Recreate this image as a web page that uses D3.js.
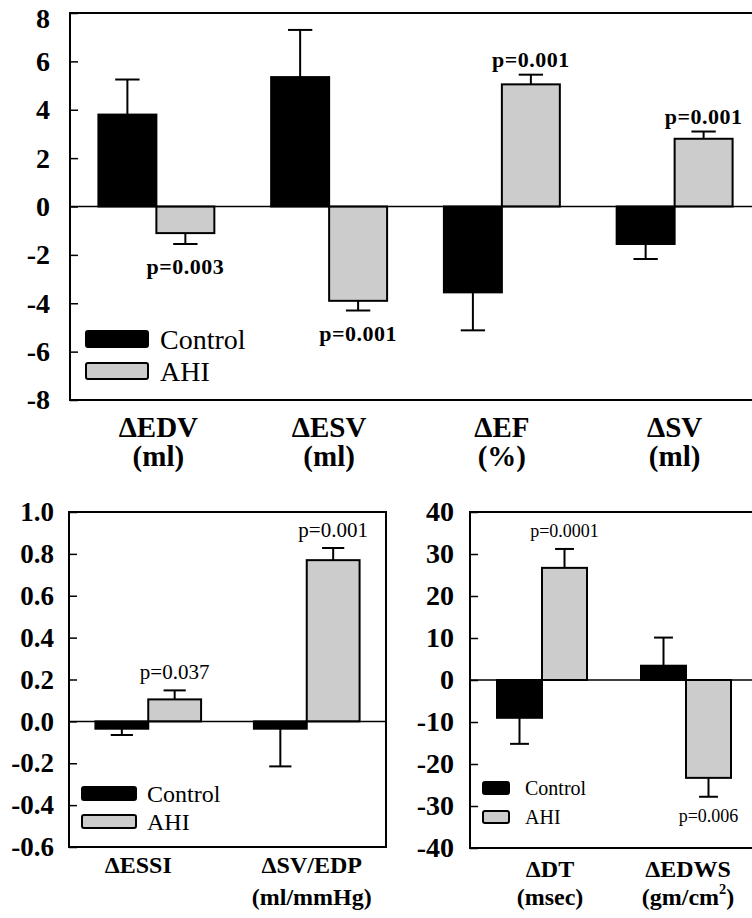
<!DOCTYPE html>
<html>
<head>
<meta charset="utf-8">
<script src="https://cdn.jsdelivr.net/npm/d3@7"></script>
<style>
  body { margin: 0; background: #fff; }
  svg { display: block; }
</style>
</head>
<body>
<div id="chart"></div>
<script>
// Panel 1 (top): volumes and EF
const topCats = ["ΔEDV", "ΔESV", "ΔEF", "ΔSV"]
const topUnits = ["(ml)", "(ml)", "(%)", "(ml)"]
const topControl = [3.8, 5.35, -3.55, -1.55]
const topControlErr = [1.45, 1.95, 1.57, 0.62]
const topAHI = [-1.1, -3.9, 5.05, 2.8]
const topAHIErr = [0.45, 0.4, 0.4, 0.3]
const topP = ["p=0.003", "p=0.001", "p=0.001", "p=0.001"]
const topTicks = [-8, -6, -4, -2, 0, 2, 4, 6, 8]

// Panel 2 (bottom left)
const blCats = ["ΔESSI", "ΔSV/EDP"]
const blUnits = ["", "(ml/mmHg)"]
const blControl = [-0.035, -0.035]
const blControlErr = [0.03, 0.18]
const blAHI = [0.105, 0.77]
const blAHIErr = [0.043, 0.058]
const blP = ["p=0.037", "p=0.001"]
const blTicks = [-0.6, -0.4, -0.2, 0.0, 0.2, 0.4, 0.6, 0.8, 1.0]

// Panel 3 (bottom right)
const brCats = ["ΔDT", "ΔEDWS"]
const brUnits = ["(msec)", "(gm/cm2)"]
const brControl = [-9.0, 3.4]
const brControlErr = [6.2, 6.7]
const brAHI = [26.7, -23.3]
const brAHIErr = [4.5, 4.5]
const brP = ["p=0.0001", "p=0.006"]
const brTicks = [-40, -30, -20, -10, 0, 10, 20, 30, 40]

const groups = ["Control", "AHI"]
const fills = { Control: "#000", AHI: "#cccccc" }
const FONT = '"Liberation Serif", "Times New Roman", serif'

const svg = d3.select("#chart").append("svg")
  .attr("width", 752)
  .attr("height", 918)
  .style("font-family", FONT)

function drawPanel(cfg) {
  const g = svg.append("g")

  const x = d3.scaleBand().domain(cfg.cats).range([cfg.left, cfg.right])
  const xIn = d3.scaleBand().domain(groups).range([0, x.bandwidth()])
                .paddingInner(0).paddingOuter(cfg.outerPad)
  const y = d3.scaleLinear().domain(d3.extent(cfg.ticks)).range([cfg.bottom, cfg.top])

  // y axis, ticks inside the frame
  const yAxis = d3.axisLeft(y)
    .tickValues(cfg.ticks)
    .tickSizeInner(-8)
    .tickSizeOuter(0)
    .tickPadding(cfg.tickPad)
    .tickFormat(cfg.fmt)
  const ax = g.append("g")
    .attr("transform", `translate(${cfg.left},0)`)
    .call(yAxis)
    .attr("font-family", null)
    .attr("font-size", null)
  ax.select(".domain").remove()
  ax.selectAll("line").attr("stroke", "#000").attr("stroke-width", 1.5)
  ax.selectAll("text")
    .attr("fill", "#000")
    .style("font-family", FONT)
    .style("font-size", cfg.tickFont + "px")
    .style("font-weight", "bold")
  // keep the highest label inside the picture
  ax.selectAll("text").filter(d => d === d3.max(cfg.ticks)).attr("dy", cfg.topTickDy)

  const rows = []
  cfg.cats.forEach((c, i) => {
    rows.push({ cat: c, grp: "Control", v: cfg.control[i], e: cfg.controlErr[i] })
    rows.push({ cat: c, grp: "AHI", v: cfg.ahi[i], e: cfg.ahiErr[i] })
  })

  // error bars (drawn first so bars sit on top of stems)
  const cap = xIn.bandwidth() * 0.21
  const eb = g.selectAll(".err").data(rows).enter().append("g").attr("class", "err")
  const cx = d => x(d.cat) + xIn(d.grp) + xIn.bandwidth() / 2
  const ye = d => y(d.v + (d.v >= 0 ? d.e : -d.e))
  eb.append("line")
    .attr("x1", cx).attr("x2", cx)
    .attr("y1", d => y(d.v)).attr("y2", ye)
    .attr("stroke", "#000").attr("stroke-width", 2)
  eb.append("line")
    .attr("x1", d => cx(d) - cap).attr("x2", d => cx(d) + cap)
    .attr("y1", ye).attr("y2", ye)
    .attr("stroke", "#000").attr("stroke-width", 2)

  // bars
  g.selectAll(".bar").data(rows).enter().append("rect")
    .attr("class", "bar")
    .attr("x", d => x(d.cat) + xIn(d.grp))
    .attr("width", xIn.bandwidth())
    .attr("y", d => y(Math.max(0, d.v)))
    .attr("height", d => Math.abs(y(d.v) - y(0)))
    .attr("fill", d => fills[d.grp])
    .attr("stroke", "#000")
    .attr("stroke-width", 2)

  // zero line
  g.append("line")
    .attr("x1", cfg.left).attr("x2", cfg.right)
    .attr("y1", y(0)).attr("y2", y(0))
    .attr("stroke", "#000").attr("stroke-width", 1.5)

  // frame
  g.append("rect")
    .attr("x", cfg.left).attr("y", cfg.top)
    .attr("width", cfg.right - cfg.left).attr("height", cfg.bottom - cfg.top)
    .attr("fill", "none").attr("stroke", "#000").attr("stroke-width", 2)

  // p values over / under the AHI bars
  const ahiRows = rows.filter(d => d.grp === "AHI")
  g.selectAll(".pval").data(ahiRows).enter().append("text")
    .attr("class", "pval")
    .attr("x", cx)
    .attr("y", d => d.v >= 0 ? ye(d) - cfg.pGapUp : ye(d) + cfg.pFont + cfg.pGapDown)
    .attr("text-anchor", "middle")
    .style("font-family", FONT)
    .style("font-size", cfg.pFont + "px")
    .style("font-weight", cfg.pBold ? "bold" : "normal")
    .style("letter-spacing", cfg.pSpacing + "px")
    .text((d, i) => cfg.p[i])

  // category labels
  const labX = (d, i) => x(d) + x.bandwidth() / 2 + cfg.labDx[i]
  const lab = g.selectAll(".cat").data(cfg.cats).enter().append("text")
    .attr("class", "cat")
    .attr("x", labX)
    .attr("y", cfg.labY)
    .attr("text-anchor", "middle")
    .style("font-family", FONT)
    .style("font-size", cfg.labFont + "px")
    .style("font-weight", "bold")
    .style("letter-spacing", cfg.labSpacing + "px")
  lab.append("tspan").text(d => d)
  lab.each(function(d, i) {
    const u = cfg.units[i]
    if (!u) return
    const t = d3.select(this).append("tspan")
      .attr("x", labX(d, i))
      .attr("dy", cfg.labGap)
    if (u.indexOf("2") > 0) {
      t.text(u.replace("2)", ""))
      t.append("tspan").attr("dy", -cfg.labFont * 0.45)
        .style("font-size", (cfg.labFont * 0.6) + "px").text("2")
      t.append("tspan").attr("dy", cfg.labFont * 0.45).text(")")
    } else {
      t.text(u)
    }
  })

  // legend
  const leg = g.selectAll(".leg").data(groups).enter().append("g").attr("class", "leg")
    .attr("transform", (d, i) => `translate(${cfg.legX},${cfg.legY + i * cfg.legStep})`)
  leg.append("rect")
    .attr("width", cfg.legW).attr("height", cfg.legH)
    .attr("rx", 2)
    .attr("fill", d => fills[d])
    .attr("stroke", "#000").attr("stroke-width", 2)
  leg.append("text")
    .attr("x", cfg.legW + cfg.legTextGap)
    .attr("y", cfg.legH / 2)
    .attr("dy", "0.35em")
    .style("font-family", FONT)
    .style("font-size", cfg.legFont + "px")
    .style("letter-spacing", cfg.legSpacing + "px")
    .text(d => d)
}

drawPanel({
  cats: topCats, units: topUnits, control: topControl, controlErr: topControlErr,
  ahi: topAHI, ahiErr: topAHIErr, p: topP, ticks: topTicks,
  left: 70, right: 761, top: 13, bottom: 400, outerPad: 0.49,
  tickPad: 20, tickFont: 28, fmt: d => d, topTickDy: "0.5em",
  pFont: 22, pBold: true, pSpacing: 0.5, pGapUp: 8, pGapDown: 8,
  labY: 437, labGap: 29, labFont: 29, labSpacing: 0, labDx: [2, 0, 0, 0],
  legX: 86, legY: 331, legStep: 32, legW: 62, legH: 16, legTextGap: 12,
  legFont: 28, legSpacing: 0
})

drawPanel({
  cats: blCats, units: blUnits, control: blControl, controlErr: blControlErr,
  ahi: blAHI, ahiErr: blAHIErr, p: blP, ticks: blTicks,
  left: 69, right: 386, top: 512, bottom: 847, outerPad: 0.5,
  tickPad: 15, tickFont: 27, fmt: d => d.toFixed(1), topTickDy: "0.32em",
  pFont: 21, pBold: false, pSpacing: 0, pGapUp: 11, pGapDown: 7,
  labY: 873, labGap: 32, labFont: 24, labSpacing: 0, labDx: [-10, 5],
  legX: 82, legY: 787, legStep: 28, legW: 54, legH: 13, legTextGap: 11,
  legFont: 24, legSpacing: 0
})

drawPanel({
  cats: brCats, units: brUnits, control: brControl, controlErr: brControlErr,
  ahi: brAHI, ahiErr: brAHIErr, p: brP, ticks: brTicks,
  left: 470, right: 758, top: 512, bottom: 848, outerPad: 0.6,
  tickPad: 16, tickFont: 28, fmt: d => d, topTickDy: "0.32em",
  pFont: 18, pBold: false, pSpacing: 0, pGapUp: 12, pGapDown: 7,
  labY: 877, labGap: 28, labFont: 24, labSpacing: 0, labDx: [8, 2],
  legX: 483, legY: 782, legStep: 29, legW: 26, legH: 12, legTextGap: 16,
  legFont: 20, legSpacing: 0
})
</script>
</body>
</html>
